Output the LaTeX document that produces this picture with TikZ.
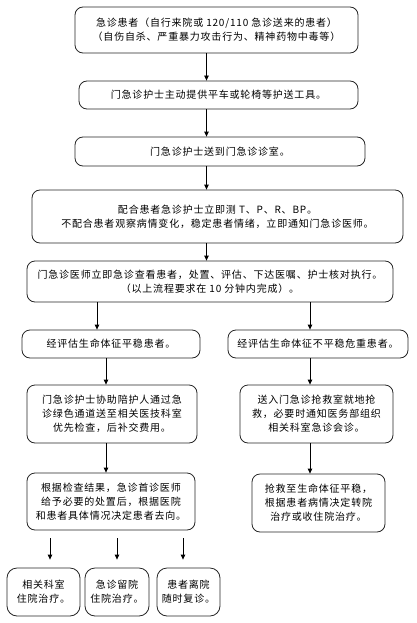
\documentclass[tikz,border=0pt]{standalone}
\usepackage{fontspec}
\setmainfont{Noto Sans CJK SC}[LetterSpace=8]
\usetikzlibrary{arrows.meta}
\begin{document}
\begin{tikzpicture}[x=1pt,y=-1pt,
  box/.style={draw=black!85,line width=0.8pt,rounded corners=8pt,inner sep=0pt,align=center,
    font=\fontsize{10}{14}\selectfont},
  arr/.style={draw=black,line width=0.8pt,-{Triangle[length=5pt,width=4.5pt]}}]
\useasboundingbox (0,0) rectangle (416,623);
\node[box,minimum width=283pt,minimum height=46pt] (b1) at (216.5,30) {急诊患者（自行来院或 120/110 急诊送来的患者）\\（自伤自杀、严重暴力攻击行为、精神药物中毒等）};
\node[box,minimum width=279pt,minimum height=28pt] (b2) at (218.5,95) {门急诊护士主动提供平车或轮椅等护送工具。};
\node[box,minimum width=290pt,minimum height=29pt] (b3) at (220,151.5) {门急诊护士送到门急诊诊室。};
\node[box,minimum width=371pt,minimum height=53pt] (b4) at (217.5,216.5) {配合患者急诊护士立即测 T、P、R、BP。\\不配合患者观察病情变化，稳定患者情绪，立即通知门急诊医师。};
\node[box,minimum width=366pt,minimum height=41pt] (b5) at (210,281.5) {门急诊医师立即急诊查看患者，处置、评估、下达医嘱、护士核对执行。\\（以上流程要求在 10 分钟内完成）。};
\node[box,minimum width=178pt,minimum height=28pt] (l1) at (111,344) {经评估生命体征平稳患者。};
\node[box,minimum width=180pt,minimum height=28pt] (r1) at (318,344) {经评估生命体征不平稳危重患者。};
\node[box,minimum width=170pt,minimum height=58pt] (l2) at (112,414) {门急诊护士协助陪护人通过急\\诊绿色通道送至相关医技科室\\优先检查，后补交费用。};
\node[box,minimum width=153pt,minimum height=58pt] (r2) at (316.5,414) {送入门急诊抢救室就地抢\\救，必要时通知医务部组织\\相关科室急诊会诊。};
\node[box,minimum width=168pt,minimum height=57pt] (l3) at (111,501.5) {根据检查结果，急诊首诊医师\\给予必要的处置后，根据医院\\和患者具体情况决定患者去向。};
\node[box,minimum width=133pt,minimum height=58pt] (r3) at (318.5,503) {抢救至生命体征平稳，\\根据患者病情决定转院\\治疗或收住院治疗。};
\node[box,rounded corners=10pt,minimum width=73pt,minimum height=48pt] (e1) at (43.5,592) {相关科室\\住院治疗。};
\node[box,rounded corners=10pt,minimum width=64pt,minimum height=48pt] (e2) at (117,592) {急诊留院\\住院治疗。};
\node[box,rounded corners=10pt,minimum width=63pt,minimum height=48pt] (e3) at (188.5,592) {患者离院\\随时复诊。};
\coordinate (m) at (206.5,0);
\coordinate (la) at (97,0);
\coordinate (lb) at (106,0);
\coordinate (rr) at (310,0);
\draw[arr] (b1.south -| m) -- (b2.north -| m);
\draw[arr] (b2.south -| m) -- (b3.north -| m);
\draw[arr] (b3.south -| m) -- (b4.north -| m);
\draw[arr] (b4.south -| m) -- (b5.north -| m);
\draw[arr] (b5.south -| la) -- (l1.north -| la);
\draw[arr] (b5.south -| rr) -- (r1.north -| rr);
\draw[arr] (l1.south -| lb) -- (l2.north -| lb);
\draw[arr] (r1.south -| rr) -- (r2.north -| rr);
\draw[arr] (l2.south -| lb) -- (l3.north -| lb);
\draw[arr] (r2.south -| rr) -- (r3.north -| rr);
\coordinate (k1) at (50,0);
\coordinate (k2) at (117,0);
\coordinate (k3) at (183,0);
\draw[arr] ([yshift=-8pt]l3.south -| k1) -- ([yshift=8pt]e1.north -| k1);
\draw[arr] ([yshift=-8pt]l3.south -| k2) -- ([yshift=8pt]e2.north -| k2);
\draw[arr] ([yshift=-8pt]l3.south -| k3) -- ([yshift=8pt]e3.north -| k3);
\end{tikzpicture}
\end{document}
